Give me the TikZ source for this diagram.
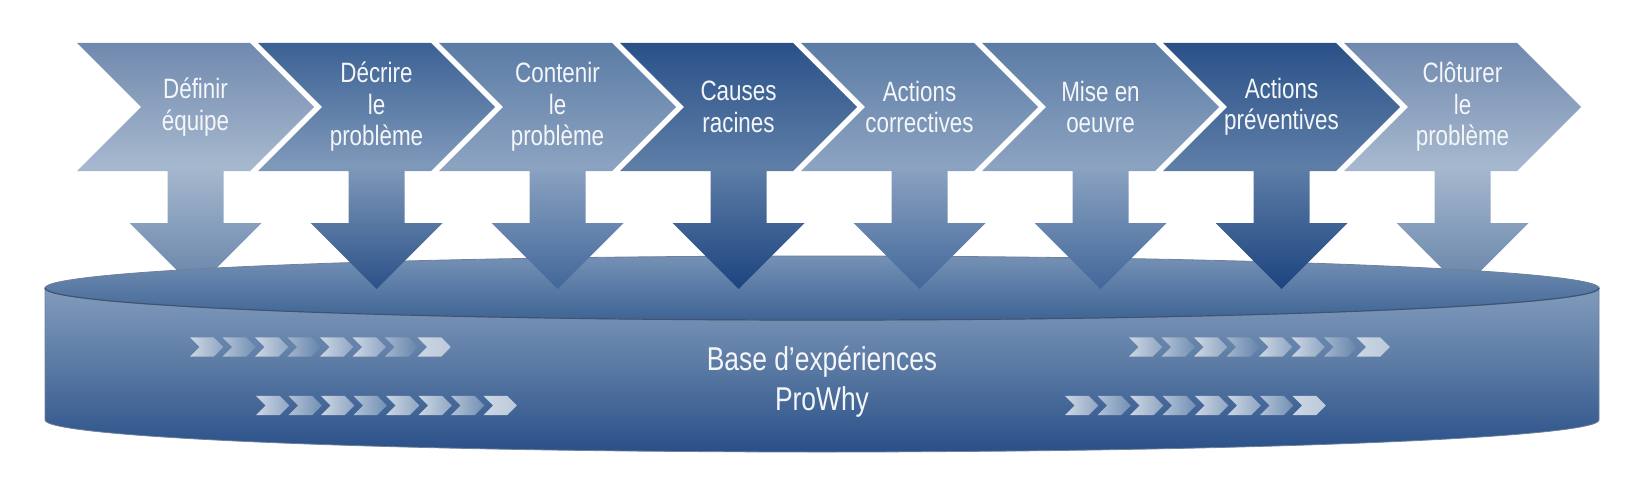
\documentclass[tikz,border=0pt]{standalone}
\usepackage{fontspec}
\setmainfont{Liberation Sans}[FakeStretch=0.8]
% stage colours: t = top, m = middle (lightest), b = bottom
\definecolor{At}{HTML}{7089AE}
\definecolor{Am}{HTML}{A6B8CE}
\definecolor{Ab}{HTML}{6683A9}
\definecolor{Bt}{HTML}{3B6194}
\definecolor{Bm}{HTML}{7F99BA}
\definecolor{Bb}{HTML}{2B5188}
\definecolor{Ct}{HTML}{5B7CA5}
\definecolor{Cm}{HTML}{8CA3C1}
\definecolor{Cb}{HTML}{42679A}
\definecolor{Dt}{HTML}{2A5188}
\definecolor{Dm}{HTML}{5E7EA7}
\definecolor{Db}{HTML}{1C447F}
% cylinder
\definecolor{sideT}{HTML}{819BBC}
\definecolor{sideM}{HTML}{5878A2}
\definecolor{sideB}{HTML}{2A5089}
\definecolor{lidT}{HTML}{7591B5}
\definecolor{lidB}{HTML}{3E6494}
\definecolor{rimline}{HTML}{3F5372}
\definecolor{edgeline}{HTML}{6E809A}
% small chevrons
\definecolor{chbL}{HTML}{CDD7E4}
\definecolor{chbR}{HTML}{90A6C3}
\definecolor{chmL}{HTML}{B3C2D6}
\definecolor{chmR}{HTML}{7290B3}
\definecolor{chfL}{HTML}{A3B5CC}
\definecolor{chfR}{HTML}{6585AB}
\definecolor{chLL}{HTML}{CDD7E4}
\definecolor{chLR}{HTML}{BCC9DA}
\definecolor{txt}{HTML}{F4F6F9}

\newcommand\stageshape[2]{%
  \pgfmathsetmacro\xa{77+181*#1}%
  \pgfmathsetmacro\xc{\xa+118.5}%
  \shade[top color=#2t,bottom color=#2b,middle color=#2m]
    (\xa,43) -- ++(173,0) -- ++(64,64) -- ++(-64,64)
    -- (\xc+28,171) -- (\xc+28,223) -- (\xc+66,223) -- (\xc,289)
    -- (\xc-66,223) -- (\xc-28,223) -- (\xc-28,171) -- (\xa,171)
    -- ++(64,-64) -- cycle;}

\newcommand\minichev[4]{%
  \shade[left color=#3,right color=#4]
    (#1,#2-9.7) -- ++(23.6,0) -- ++(9.7,9.7) -- ++(-9.7,9.7)
    -- ++(-23.6,0) -- ++(9.7,-9.7) -- cycle;}

\begin{document}
\begin{tikzpicture}[x=0.5pt,y=-0.5pt,
  stagetext/.style={text=txt,align=center,inner sep=0pt,
    font=\fontsize{14}{15.75}\selectfont},
  basetext/.style={text=txt,align=center,inner sep=0pt,
    font=\fontsize{16.5}{20}\selectfont}]
\useasboundingbox (0,0) rectangle (1636,476);

% stages whose arrows go behind the cylinder
\stageshape{0}{A}
\stageshape{7}{A}

% cylinder side
\shade[top color=sideT,bottom color=sideB,middle color=sideM,
       draw=edgeline,line width=0.4pt]
  (45,288) -- (45,420) arc[start angle=180,end angle=0,x radius=777,y radius=32]
  -- (1599,288) arc[start angle=0,end angle=180,x radius=777,y radius=32] -- cycle;
% cylinder top
\shade[top color=lidT,bottom color=lidB,draw=edgeline,line width=0.4pt]
  (822,288) ellipse[x radius=777,y radius=32];
\draw[rimline,line width=0.6pt]
  (1599,288) arc[start angle=0,end angle=180,x radius=777,y radius=32];

% remaining stages
\stageshape{1}{B}
\stageshape{2}{C}
\stageshape{3}{D}
\stageshape{4}{C}
\stageshape{5}{C}
\stageshape{6}{D}

% small chevron rows
\foreach \sx in {190,1129}{
  \foreach \j/\ty in {0/b,1/m,2/b,3/f,4/b,5/b,6/f,7/L}{
    \minichev{\sx+32.5*\j}{347}{ch\ty L}{ch\ty R}}}
\foreach \sx in {256,1065}{
  \foreach \j/\ty in {0/b,1/m,2/b,3/m,4/b,5/b,6/m,7/L}{
    \minichev{\sx+32.5*\j}{405.5}{ch\ty L}{ch\ty R}}}

% labels
\node[stagetext] (s1) at (195.5,107) {Définir\\équipe};
\node[stagetext] (s2) at (376.5,107) {Décrire\\le\\problème};
\node[stagetext] (s3) at (557.5,107) {Contenir\\le\\problème};
\node[stagetext] (s4) at (738.5,107) {Causes\\racines};
\node[stagetext] (s5) at (919.5,107) {Actions\\correctives};
\node[stagetext] (s6) at (1100.5,107) {Mise en\\oeuvre};
\node[stagetext] (s7) at (1281.5,107) {Actions\\préventives};
\node[stagetext] (s8) at (1462.5,107) {Clôturer\\le\\problème};
\node[basetext] (base) at (822,381.5) {Base d’expériences\\ProWhy};
\end{tikzpicture}
\end{document}
